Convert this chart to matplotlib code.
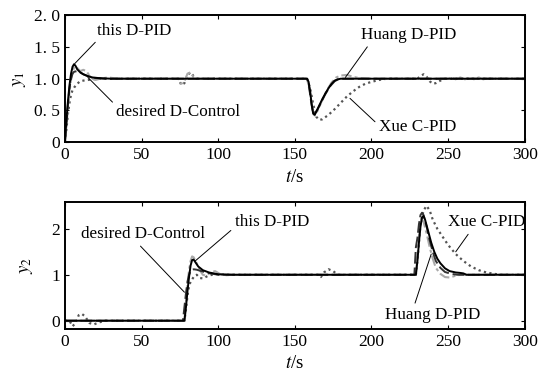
import matplotlib
matplotlib.use("Agg")
import matplotlib.pyplot as plt

plt.rcParams["font.family"] = ["Liberation Serif", "DejaVu Serif"]
plt.rcParams["mathtext.fontset"] = "stix"
plt.rcParams["font.size"] = 11

# --- output y1 : (t, value) pairs ---
y1_this = [(0, 0), (1, 0.35), (2, 0.65), (3, 0.9), (4, 1.08), (5, 1.19), (6, 1.23), (7, 1.2),
           (8, 1.15), (10, 1.1), (12, 1.07), (15, 1.04), (18, 1.02), (22, 1.01), (30, 1.0),
           (158, 1.0), (159, 0.95), (160, 0.8), (161, 0.6), (162, 0.45), (163, 0.43), (164, 0.48),
           (166, 0.58), (168, 0.68), (170, 0.77), (172, 0.85), (174, 0.92), (176, 0.97),
           (178, 0.99), (180, 1.0), (300, 1.0)]
y1_desired = [(0, 0), (1, 0.3), (2, 0.6), (3, 0.85), (4, 1.0), (5, 1.08), (6, 1.11), (8, 1.12),
              (10, 1.1), (12, 1.07), (15, 1.04), (20, 1.01), (25, 1.0), (158, 1.0), (159, 0.93),
              (160, 0.75), (161, 0.58), (162, 0.46), (163, 0.45), (165, 0.52), (167, 0.62),
              (170, 0.76), (173, 0.88), (176, 0.96), (179, 1.0), (300, 1.0)]
y1_huang = [(0, 0), (1, 0.25), (2, 0.55), (3, 0.8), (4, 0.98), (5, 1.1), (6, 1.18), (7, 1.2),
            (8, 1.17), (10, 1.12), (12, 1.14), (14, 1.12), (16, 1.05), (18, 1.0), (20, 0.98),
            (23, 1.0), (28, 1.02), (35, 1.0), (74, 1.0), (76, 0.92), (78, 0.96), (80, 1.08),
            (82, 1.1), (84, 1.02), (86, 1.0), (158, 1.0), (160, 0.78), (162, 0.45), (163, 0.42),
            (165, 0.5), (168, 0.67), (171, 0.82), (174, 0.94), (177, 1.02), (180, 1.05),
            (184, 1.06), (188, 1.03), (192, 1.01), (200, 1.0), (250, 1.0), (252, 1.02),
            (255, 0.99), (258, 1.02), (261, 0.99), (264, 1.02), (267, 0.99), (270, 1.02),
            (273, 0.99), (276, 1.01), (280, 1.0), (300, 1.0)]
y1_xue = [(0, 0), (1, 0.2), (2, 0.45), (3, 0.62), (4, 0.75), (5, 0.82), (6, 0.86), (8, 0.92),
          (10, 0.96), (12, 0.97), (15, 0.98), (18, 0.99), (22, 1.0), (74, 1.0), (76, 0.9),
          (78, 0.93), (80, 1.06), (82, 1.1), (84, 1.04), (86, 1.0), (158, 1.0), (160, 0.85),
          (162, 0.6), (164, 0.4), (166, 0.35), (168, 0.36), (172, 0.43), (176, 0.52), (180, 0.62),
          (184, 0.72), (188, 0.8), (192, 0.87), (196, 0.92), (200, 0.95), (205, 0.98), (210, 1.0),
          (230, 1.0), (232, 1.04), (234, 1.07), (236, 1.03), (238, 0.96), (240, 0.92),
          (242, 0.93), (245, 0.97), (248, 1.0), (300, 1.0)]

# --- output y2 ---
y2_this = [(0, 0), (78, 0), (79, 0.3), (80, 0.65), (81, 0.95), (82, 1.2), (83, 1.32), (84, 1.33),
           (85, 1.28), (87, 1.18), (90, 1.1), (94, 1.05), (100, 1.01), (110, 1.0), (229, 1.0),
           (230, 1.3), (231, 1.7), (232, 2.05), (233, 2.25), (234, 2.28), (235, 2.2), (237, 1.95),
           (239, 1.7), (241, 1.5), (243, 1.35), (245, 1.25), (248, 1.14), (251, 1.08),
           (255, 1.05), (258, 1.04), (260, 1.03), (262, 1.0), (300, 1.0)]
y2_desired = [(0, 0), (77, 0), (78, 0.3), (79, 0.6), (80, 0.85), (81, 1.0), (82, 1.08), (84, 1.12),
              (86, 1.11), (90, 1.07), (95, 1.03), (100, 1.0), (228, 1.0), (229, 1.6), (230, 1.8),
              (231, 2.1), (232, 2.3), (233, 2.35), (234, 2.3), (236, 2.05), (238, 1.75),
              (240, 1.5), (242, 1.3), (245, 1.15), (248, 1.06), (252, 1.02), (256, 1.0), (300, 1.0)]
y2_huang = [(0, 0), (78, 0), (79, 0.4), (80, 0.8), (81, 1.1), (82, 1.3), (83, 1.4), (84, 1.38),
            (86, 1.25), (88, 1.1), (90, 1.0), (92, 0.98), (95, 1.05), (98, 1.08), (101, 1.02),
            (105, 0.99), (110, 1.0), (229, 1.0), (230, 1.4), (231, 1.8), (232, 2.1), (233, 2.2),
            (234, 2.15), (236, 1.9), (238, 1.6), (240, 1.35), (242, 1.15), (245, 1.02),
            (248, 0.95), (251, 0.94), (254, 0.97), (258, 1.0), (300, 1.0)]
y2_xue = [(0, 0), (3, 0.0), (5, -0.12), (7, -0.05), (9, 0.12), (11, 0.15), (13, 0.1), (16, -0.05),
          (19, -0.08), (22, -0.04), (26, 0.0), (78, 0), (79, 0.25), (80, 0.55), (81, 0.75),
          (82, 0.85), (84, 0.95), (86, 1.0), (88, 0.93), (90, 0.92), (93, 0.97), (96, 1.0),
          (100, 1.02), (105, 1.0), (165, 1.0), (167, 0.95), (169, 1.05), (172, 1.12), (175, 1.08),
          (178, 1.0), (229, 1.0), (230, 1.3), (231, 1.7), (232, 2.1), (234, 2.4), (236, 2.5),
          (238, 2.4), (240, 2.2), (243, 2.0), (246, 1.85), (250, 1.65), (255, 1.45), (260, 1.3),
          (265, 1.18), (270, 1.1), (275, 1.05), (280, 1.02), (285, 1.0), (300, 1.0)]

x_ticks = [0, 50, 100, 150, 200, 250, 300]
y1_ticks = [0, 0.5, 1.0, 1.5, 2.0]
y1_tick_labels = ["0", "0. 5", "1. 0", "1. 5", "2. 0"]
y2_ticks = [0, 1, 2]


def draw(ax, xue, huang, desired, this):
    ax.plot(*zip(*xue), color="#555555", ls=(0, (1, 1.5)), lw=1.6)
    ax.plot(*zip(*huang), color="#aaaaaa", ls=(0, (5, 1.5, 1.5, 1.5)), lw=1.5)
    ax.plot(*zip(*desired), color="#333333", ls=(0, (6, 2)), lw=1.4)
    ax.plot(*zip(*this), color="black", lw=1.4)
    ax.set_xlim(0, 300)
    ax.set_xticks(x_ticks)
    ax.tick_params(direction="in", top=True, right=True, length=3, labelsize=12.5)
    for s in ax.spines.values():
        s.set_linewidth(1.4)
    ax.set_xlabel("$t$/s", fontsize=13.5, labelpad=4)


def note(ax, text, xy, xytext, relpos):
    ax.annotate(text, xy=xy, xytext=xytext, ha="center", va="center", fontsize=12.3,
                arrowprops=dict(arrowstyle="-", lw=0.7, color="black",
                                relpos=relpos, shrinkA=1, shrinkB=0))


fig = plt.figure(figsize=(5.5, 3.73), dpi=100)
ax1 = fig.add_axes([0.118, 0.619, 0.836, 0.340])
ax2 = fig.add_axes([0.118, 0.118, 0.836, 0.340])

draw(ax1, y1_xue, y1_huang, y1_desired, y1_this)
ax1.set_ylim(0, 2)
ax1.set_yticks(y1_ticks)
ax1.set_yticklabels(y1_tick_labels)
ax1.set_ylabel("$y_1$", fontsize=13.5, labelpad=4)
note(ax1, "this D-PID", (6.5, 1.24), (45, 1.76), (0.05, 0.1))
note(ax1, "desired D-Control", (15, 1.02), (74, 0.47), (0.0, 0.9))
note(ax1, "Huang D-PID", (183, 1.02), (224, 1.69), (0.1, 0.0))
note(ax1, "Xue C-PID", (186, 0.69), (230, 0.24), (0.0, 0.6))

draw(ax2, y2_xue, y2_huang, y2_desired, y2_this)
ax2.set_ylim(-0.18, 2.58)
ax2.set_yticks(y2_ticks)
ax2.set_ylabel("$y_2$", fontsize=13.5, labelpad=12)
note(ax2, "desired D-Control", (78, 0.62), (51, 1.88), (0.45, 0.0))
note(ax2, "this D-PID", (85, 1.3), (135, 2.14), (0.0, 0.2))
note(ax2, "Xue C-PID", (255, 1.5), (275, 2.14), (0.3, 0.0))
note(ax2, "Huang D-PID", (239, 1.45), (240, 0.12), (0.3, 1.0))

fig.savefig("out.png", dpi=100)
